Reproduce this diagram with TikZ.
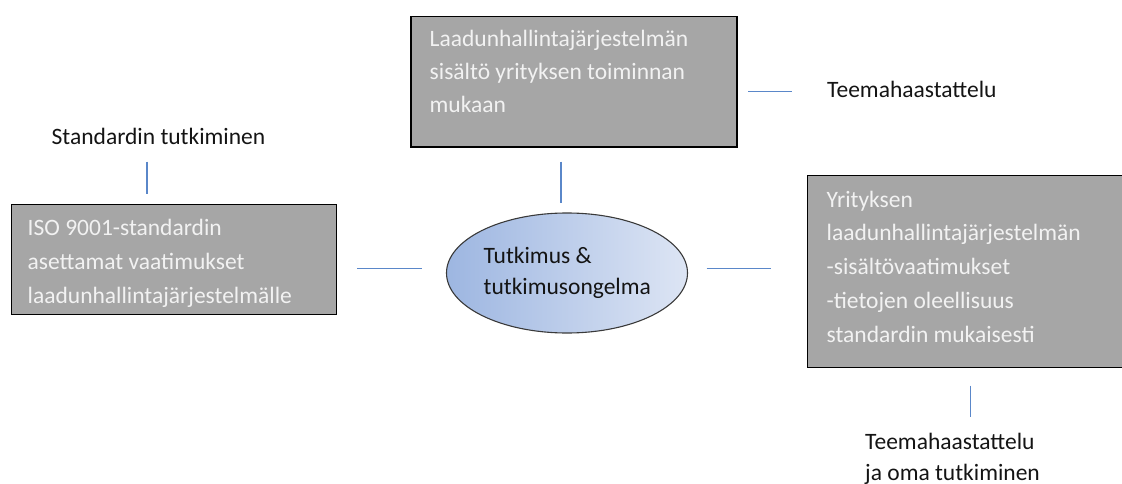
\documentclass[tikz,border=0pt]{standalone}
\usepackage{fontspec}
\setmainfont{Carlito}
\usetikzlibrary{shapes.geometric}
\definecolor{boxgray}{HTML}{A6A6A6}
\definecolor{boxtext}{HTML}{F2F2F2}
\definecolor{linkblue}{HTML}{5A87C9}
\definecolor{ovalleft}{HTML}{9DB6E1}
\definecolor{ovalright}{HTML}{DDE5F4}
\definecolor{ovalrim}{HTML}{3A3A3A}
\newcommand{\stack}[2]{\vtop{\baselineskip=#1pt\lineskiplimit=-100pt #2}}
\begin{document}
\begin{tikzpicture}[x=1pt,y=-1pt,
  graybox/.style={draw=black, line width=1.5pt, fill=boxgray, rectangle, inner sep=0pt},
  boxlabel/.style={anchor=base west, inner sep=0pt, text=boxtext, font=\fontsize{23.5}{34}\selectfont},
  plainlabel/.style={anchor=base west, inner sep=0pt, text=black!92, font=\fontsize{23.5}{34}\selectfont},
  link/.style={draw=linkblue, line width=1.2pt}]
  \useasboundingbox (0,0) rectangle (1122,484);
  \clip (0,0) rectangle (1122,484);

  % grey boxes
  \node[graybox, minimum width=326pt, minimum height=130.5pt] (top) at (574,82) {};
  \node[graybox, minimum width=325pt, minimum height=110pt] (left) at (174.2,259.3) {};
  \node[graybox, minimum width=340pt, minimum height=192pt] (right) at (977.7,271.7) {};

  % central oval, darker on its left
  \node[ellipse, draw=ovalrim, line width=1.1pt, minimum width=241pt, minimum height=120pt,
        inner sep=0pt, left color=ovalleft, right color=ovalright] (core) at (567,273) {};

  % texts inside the boxes
  \node[boxlabel] (toptext) at (429.5,47) {\stack{33}{\hbox{Laadunhallintajärjestelmän}\hbox{sisältö yrityksen toiminnan}\hbox{mukaan}}};
  \node[boxlabel] (lefttext) at (27.5,235) {\stack{34}{\hbox{ISO 9001-standardin}\hbox{asettamat vaatimukset}\hbox{laadunhallintajärjestelmälle}}};
  \node[boxlabel] (righttext) at (826.5,207) {\stack{34}{\hbox{Yrityksen}\hbox{laadunhallintajärjestelmän}\hbox{-sisältövaatimukset}\hbox{-tietojen oleellisuus}\hbox{standardin mukaisesti}}};
  \node[plainlabel] (coretext) at (483.5,263) {\stack{31}{\hbox{Tutkimus \&}\hbox{tutkimusongelma}}};

  % free labels
  \node[plainlabel] (std) at (51.5,145) {Standardin tutkiminen};
  \node[plainlabel] (teema) at (827,97.3) {Teemahaastattelu};
  \node[plainlabel] (teemaoma) at (865,449) {\stack{31}{\hbox{Teemahaastattelu}\hbox{ja oma tutkiminen}}};

  % short link segments
  \coordinate (stdA) at (147,161.7);   \coordinate (stdB) at (147,194);
  \coordinate (topA) at (561,161.7);   \coordinate (topB) at (561,203.3);
  \coordinate (lA) at (357.3,268.3);   \coordinate (lB) at (421.7,268.3);
  \coordinate (rA) at (706.7,268.3);   \coordinate (rB) at (771,268.3);
  \coordinate (trA) at (748,91.7);     \coordinate (trB) at (792,91.7);
  \coordinate (brA) at (970.7,385.7);  \coordinate (brB) at (970.7,416.7);
  \draw[link] (stdA) -- (stdB);
  \draw[link] (topA) -- (topB);
  \draw[link] (lA) -- (lB);
  \draw[link] (rA) -- (rB);
  \draw[link] (trA) -- (trB);
  \draw[link] (brA) -- (brB);
\end{tikzpicture}
\end{document}
